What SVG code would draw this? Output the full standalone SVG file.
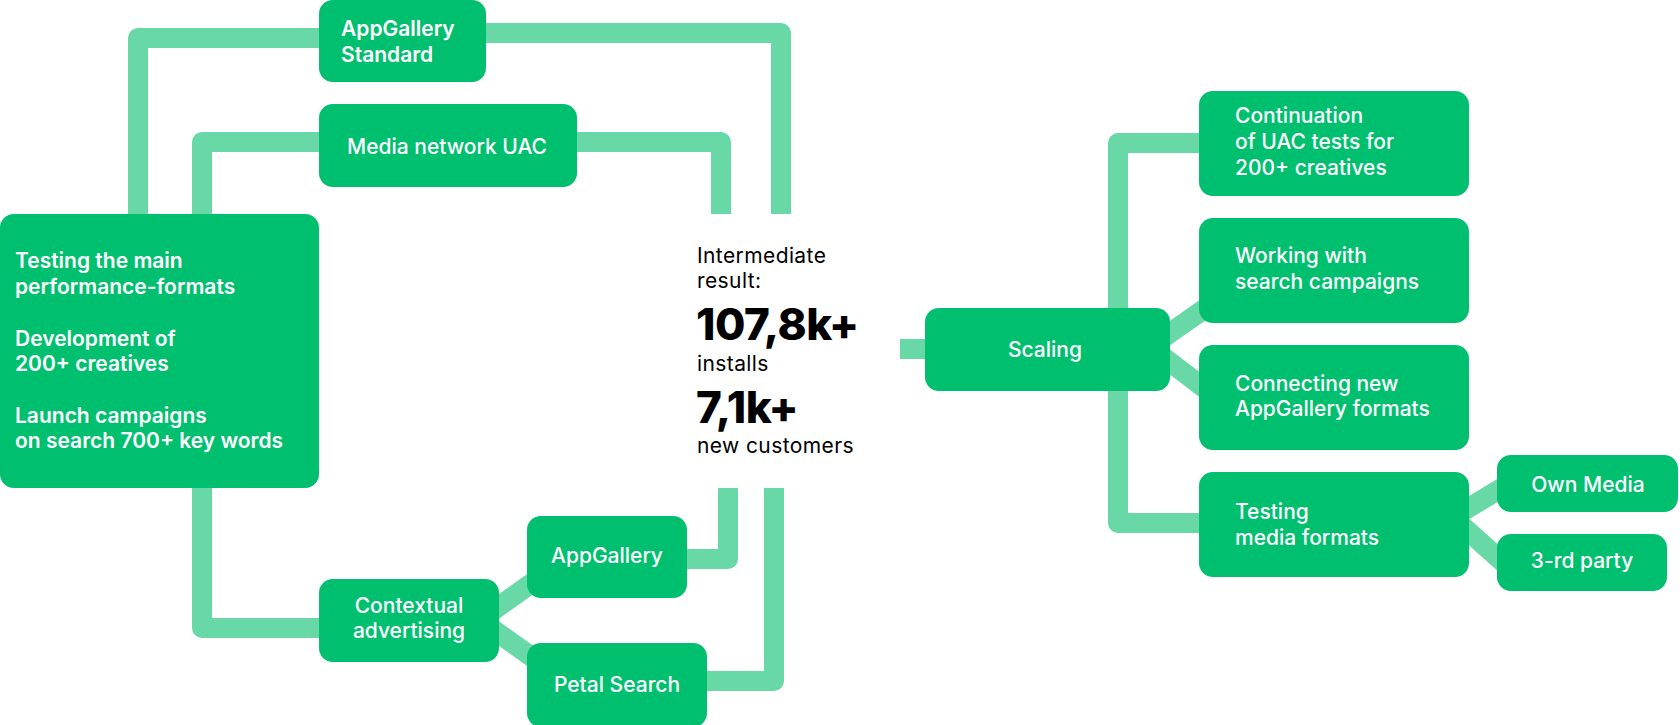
<svg xmlns="http://www.w3.org/2000/svg" width="1680" height="725" viewBox="0 0 1680 725">
<style>
.box{fill:#00bf6f}
.c{fill:none;stroke:#68d9a6;stroke-width:20;stroke-linejoin:round;stroke-linecap:butt}
.t{font-family:Inter,"Liberation Sans",sans-serif;font-size:21px;fill:#fff;font-weight:500}
.tb{font-weight:600}
.m{text-anchor:middle}
.k{font-family:Inter,"Liberation Sans",sans-serif;fill:#000}
.r{font-size:21px;font-weight:400;letter-spacing:0.4px}
.big{font-size:44px;font-weight:800;letter-spacing:-0.5px}
</style>
<rect width="1680" height="725" fill="#fff"/>
<g id="connectors">
<path class="c" d="M138 214V38H330"/>
<path class="c" d="M476 33H781V214"/>
<path class="c" d="M202 214V142H330"/>
<path class="c" d="M565 142H721V214"/>
<path class="c" d="M202 478V628H330"/>
<path class="c" d="M480 620L550 570M480 620L550 670"/>
<path class="c" d="M677 559H728V488"/>
<path class="c" d="M697 681H774V488"/>
<path class="c" d="M900 349H935"/>
<path class="c" d="M1210 143H1118V523H1210"/>
<path class="c" d="M1150 347L1220 298M1150 347L1220 400"/>
<path class="c" d="M1450 519L1515 480M1450 515L1515 573"/>
</g>
<g id="appgallery-standard">
<rect class="box" x="319" y="0" width="167" height="82" rx="14"/>
<text class="t tb" x="341" y="36">AppGallery</text>
<text class="t tb" x="341" y="62">Standard</text>
</g>
<g id="media-network-uac">
<rect class="box" x="319" y="104" width="258" height="83" rx="14"/>
<text class="t" x="347" y="154">Media network UAC</text>
</g>
<g id="main">
<rect class="box" x="0" y="214" width="319" height="274" rx="14"/>
<text class="t tb" x="15" y="268">Testing the main</text>
<text class="t tb" x="15" y="294">performance-formats</text>
<text class="t tb" x="15" y="346">Development of</text>
<text class="t tb" x="15" y="371">200+ creatives</text>
<text class="t tb" x="15" y="423">Launch campaigns</text>
<text class="t tb" x="15" y="448">on search 700+ key words</text>
</g>
<g id="contextual">
<rect class="box" x="319" y="579" width="180" height="83" rx="14"/>
<text class="t m" x="409" y="613">Contextual</text>
<text class="t m" x="409" y="638">advertising</text>
</g>
<g id="appgallery">
<rect class="box" x="527" y="516" width="160" height="82" rx="14"/>
<text class="t m" x="607" y="563">AppGallery</text>
</g>
<g id="petal-search">
<rect class="box" x="527" y="643" width="180" height="84" rx="14"/>
<text class="t m" x="617" y="692">Petal Search</text>
</g>
<g id="result">
<text class="k r" x="697" y="263">Intermediate</text>
<text class="k r" x="697" y="288">result:</text>
<text class="k big" x="696" y="340">107,8k+</text>
<text class="k r" x="697" y="371">installs</text>
<text class="k big" x="696" y="423">7,1k+</text>
<text class="k r" x="697" y="453">new customers</text>
</g>
<g id="scaling">
<rect class="box" x="925" y="308" width="245" height="83" rx="14"/>
<text class="t m" x="1045" y="357">Scaling</text>
</g>
<g id="continuation">
<rect class="box" x="1199" y="91" width="270" height="105" rx="14"/>
<text class="t" x="1235" y="123">Continuation</text>
<text class="t" x="1235" y="149">of UAC tests for</text>
<text class="t" x="1235" y="175">200+ creatives</text>
</g>
<g id="working">
<rect class="box" x="1199" y="218" width="270" height="105" rx="14"/>
<text class="t" x="1235" y="263">Working with</text>
<text class="t" x="1235" y="289">search campaigns</text>
</g>
<g id="connecting">
<rect class="box" x="1199" y="345" width="270" height="105" rx="14"/>
<text class="t" x="1235" y="391">Connecting new</text>
<text class="t" x="1235" y="416">AppGallery formats</text>
</g>
<g id="testing-media">
<rect class="box" x="1199" y="472" width="270" height="105" rx="14"/>
<text class="t" x="1235" y="519">Testing</text>
<text class="t" x="1235" y="545">media formats</text>
</g>
<g id="own-media">
<rect class="box" x="1497" y="455" width="181" height="57" rx="14"/>
<text class="t m" x="1588" y="492">Own Media</text>
</g>
<g id="third-party">
<rect class="box" x="1497" y="534" width="170" height="57" rx="14"/>
<text class="t m" x="1582" y="568">3-rd party</text>
</g>
</svg>
